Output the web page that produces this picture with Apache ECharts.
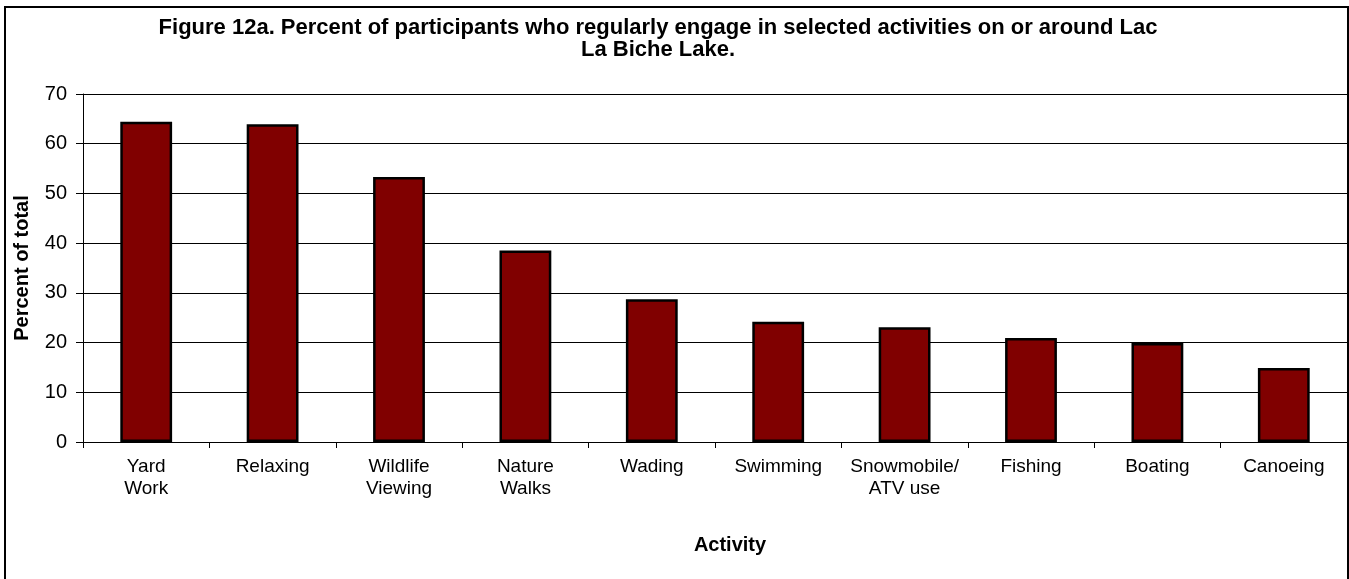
<!DOCTYPE html>
<html>
<head>
<meta charset="utf-8">
<script src="https://cdn.jsdelivr.net/npm/echarts@6/dist/echarts.min.js"></script>
<style>html,body{margin:0;padding:0;background:#fff;}#c{width:1349px;height:579px;}</style>
</head>
<body>
<div id="c"></div>
<script>
var categories = ["Yard\nWork", "Relaxing", "Wildlife\nViewing", "Nature\nWalks", "Wading", "Swimming", "Snowmobile/\nATV use", "Fishing", "Boating", "Canoeing"];
var values = [64.4, 63.9, 53.3, 38.5, 28.7, 24.2, 23.1, 20.9, 19.9, 14.9];
var yTicks = { min: 0, max: 70, interval: 10 };
var titleText = "Figure 12a. Percent of participants who regularly engage in selected activities on or around Lac\nLa Biche Lake.";
var xName = "Activity";
var yName = "Percent of total";

var FONT = "'Liberation Sans', Arial, sans-serif";
var chart = echarts.init(document.getElementById('c'), null, { renderer: 'canvas' });
chart.setOption({
  animation: false,
  backgroundColor: '#fff',
  title: {
    text: titleText,
    left: 658, top: 17, padding: 0, textAlign: 'center',
    textStyle: { fontFamily: FONT, fontWeight: 'bold', fontSize: 22, color: '#000', lineHeight: 22, align: 'center' }
  },
  graphic: [
    { type: 'rect', shape: { x: 5, y: 7, width: 1343, height: 620 }, style: { fill: 'none', stroke: '#000', lineWidth: 2 }, silent: true, z: 100 },
    { type: 'text', x: 730, y: 545, style: { text: xName, font: "bold 20px " + FONT, fill: '#000', textAlign: 'center', textVerticalAlign: 'middle' } },
    { type: 'text', x: 22, y: 268, rotation: Math.PI / 2, style: { text: yName, font: "bold 20px " + FONT, fill: '#000', textAlign: 'center', textVerticalAlign: 'middle' } }
  ],
  grid: { left: 83, right: 2, top: 94, bottom: 137, containLabel: false },
  xAxis: {
    type: 'category',
    data: categories,
    axisLine: { lineStyle: { color: '#000', width: 1 } },
    axisTick: { show: true, length: 6, lineStyle: { color: '#000' } },
    axisLabel: { interval: 0, color: '#000', fontFamily: FONT, fontSize: 19, lineHeight: 22, margin: 14 },
    splitLine: { show: false }
  },
  yAxis: {
    type: 'value',
    min: yTicks.min, max: yTicks.max, interval: yTicks.interval,
    axisLine: { show: true, lineStyle: { color: '#000', width: 1 } },
    axisTick: { show: true, length: 7, lineStyle: { color: '#000' } },
    axisLabel: { color: '#000', fontFamily: FONT, fontSize: 20, margin: 16 },
    splitLine: { show: true, lineStyle: { color: '#000', width: 1 } }
  },
  series: [{
    type: 'bar',
    data: values,
    barWidth: '41%',
    itemStyle: { color: '#800000', borderColor: '#000', borderWidth: 2.5 }
  }]
});
</script>
</body>
</html>
